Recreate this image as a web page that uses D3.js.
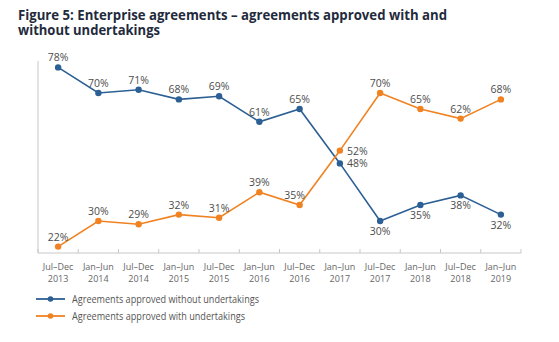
<!DOCTYPE html>
<html>
<head>
<script src="https://d3js.org/d3.v7.min.js"></script>
<style>
  body { margin: 0; background: #fff; }
  text { font-family: "Open Sans", sans-serif; }
</style>
</head>
<body>
<svg id="chart" width="559" height="342"></svg>
<script>
  const periods = ["Jul–Dec", "Jan–Jun", "Jul–Dec", "Jan–Jun", "Jul–Dec", "Jan–Jun",
                   "Jul–Dec", "Jan–Jun", "Jul–Dec", "Jan–Jun", "Jul–Dec", "Jan–Jun"];
  const years = ["2013", "2014", "2014", "2015", "2015", "2016",
                 "2016", "2017", "2017", "2018", "2018", "2019"];
  const withoutUndertakings = [78, 70, 71, 68, 69, 61, 65, 48, 30, 35, 38, 32];
  const withUndertakings = [22, 30, 29, 32, 31, 39, 35, 52, 70, 65, 62, 68];
  const seriesNames = ["Agreements approved without undertakings", "Agreements approved with undertakings"];

  const blue = "#2c5f93", orange = "#f08221";
  const svg = d3.select("#chart");

  // title
  const title = svg.append("text")
    .style("font-weight", "bold").style("font-size", "14px").attr("fill", "#1f2b3d");
  title.append("tspan").attr("x", 18).attr("y", 20).attr("textLength", 429).attr("lengthAdjust", "spacingAndGlyphs")
    .text("Figure 5: Enterprise agreements – agreements approved with and");
  title.append("tspan").attr("x", 18).attr("y", 35).attr("textLength", 142).attr("lengthAdjust", "spacingAndGlyphs")
    .text("without undertakings");

  const keys = d3.range(periods.length);
  const x = d3.scaleBand().domain(keys).range([38, 521]);
  const y = d3.scaleLinear().domain([20, 80]).range([253, 61]);
  const cx = i => x(i) + x.bandwidth() / 2;

  // axes
  svg.append("line").attr("x1", 38).attr("x2", 38).attr("y1", y(80)).attr("y2", y(20))
    .attr("stroke", "#c8c8c8");
  svg.append("line").attr("x1", 38).attr("x2", 521).attr("y1", y(20)).attr("y2", y(20))
    .attr("stroke", "#c8c8c8");
  svg.selectAll(".tick").data(d3.range(periods.length + 1)).join("line")
    .attr("x1", i => 38 + i * x.bandwidth()).attr("x2", i => 38 + i * x.bandwidth())
    .attr("y1", y(20) - 4).attr("y2", y(20))
    .attr("stroke", "#c8c8c8");

  const xl = svg.selectAll(".xl").data(keys).join("text")
    .attr("text-anchor", "middle").style("font-size", "9px").attr("fill", "#666");
  xl.append("tspan").attr("x", cx).attr("y", 270).text(i => periods[i]);
  xl.append("tspan").attr("x", cx).attr("y", 282).text(i => years[i]);

  // label placement: a = above, b = below, r = right, al = above-left
  const placeBlue = ["a","a","a","a","a","a","a","r","b","b","b","b"];
  const placeOrange = ["a","a","a","a","a","a","al","r","a","a","a","a"];

  function drawSeries(vals, color, place) {
    const line = d3.line().x((d, i) => cx(i)).y(d => y(d));
    svg.append("path").datum(vals).attr("d", line)
      .attr("fill", "none").attr("stroke", color).attr("stroke-width", 1.6);
    svg.selectAll(null).data(vals).join("circle")
      .attr("cx", (d, i) => cx(i)).attr("cy", d => y(d)).attr("r", 3.2).attr("fill", color);
    svg.selectAll(null).data(vals).join("text")
      .attr("x", (d, i) => {
        const p = place[i];
        return p === "r" ? cx(i) + 7 : p === "al" ? cx(i) - 5 : cx(i);
      })
      .attr("y", (d, i) => {
        const p = place[i];
        return p === "b" ? y(d) + 14 : p === "r" ? y(d) + 4 : y(d) - 6;
      })
      .attr("text-anchor", (d, i) => place[i] === "r" ? "start" : "middle")
      .style("font-size", "10.5px").attr("fill", "#4d4d4d")
      .text(d => d + "%");
  }
  drawSeries(withoutUndertakings, blue, placeBlue);
  drawSeries(withUndertakings, orange, placeOrange);

  // legend
  const legendLen = [187, 173];
  const lg = svg.selectAll(".lg").data(seriesNames).join("g")
    .attr("transform", (d, i) => `translate(36,${299 + i * 17})`);
  lg.append("line").attr("x1", 0).attr("x2", 29).attr("y1", 0).attr("y2", 0)
    .attr("stroke", (d, i) => i ? orange : blue).attr("stroke-width", 1.8);
  lg.append("circle").attr("cx", 14.5).attr("cy", 0).attr("r", 2.8)
    .attr("fill", (d, i) => i ? orange : blue);
  lg.append("text").attr("x", 36).attr("y", 3.5).style("font-size", "10px").attr("fill", "#555")
    .attr("textLength", (d, i) => legendLen[i]).attr("lengthAdjust", "spacingAndGlyphs")
    .text(d => d);
</script>
</body>
</html>
